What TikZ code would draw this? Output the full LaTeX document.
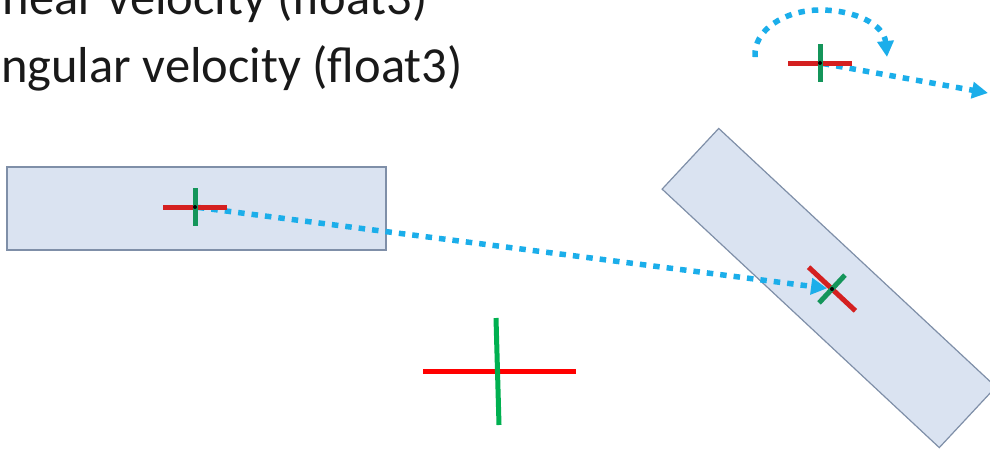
\documentclass[tikz,border=0pt]{standalone}
\usepackage{fontspec}
\setmainfont{Carlito}
\usetikzlibrary{arrows.meta,calc}
\definecolor{bodyfill}{HTML}{DAE3F1}
\definecolor{bodyline}{HTML}{7F8FA8}
\definecolor{velblue}{HTML}{1BAEEA}
\definecolor{axred}{HTML}{D42020}
\definecolor{axgreen}{HTML}{14955A}
\definecolor{bigred}{HTML}{FF0000}
\definecolor{biggreen}{HTML}{00B050}
% local axes of a body: red = x, green = y
\newcommand{\frameaxes}[2]{%
  \begin{scope}[shift={(#1)},rotate=#2]
    \draw[axx] (-32,0) -- (32,0);
    \draw[axy] (0,-19) -- (0,19);
    \fill (0,0) circle (2pt);
  \end{scope}}

\begin{document}
\begin{tikzpicture}[x=1pt,y=-1pt,
every node/.style={font=\fontsize{50.5}{60}\selectfont},
label/.style={inner sep=0pt,anchor=base east,text=black!90},
body/.style={draw=bodyline,line width=1.2pt,fill=bodyfill,minimum width=379pt,minimum height=83pt,inner sep=0pt},
axx/.style={draw=axred,line width=5pt},
axy/.style={draw=axgreen,line width=5pt},
vel/.style={draw=velblue,line width=5.5pt,dash pattern=on 6.5pt off 7pt,-{Triangle[length=16pt,width=16pt]}}
]
\useasboundingbox (0,0) rectangle (990,451);
\clip (0,0) rectangle (990,451);

\node[label] (linvel) at (428,14) {inear velocity (float3)};
\node[label] (angvel) at (463,82) {ngular velocity (float3)};

% bodies
\node[body] (bodyA) at (196.5,208.5) {};
\node[body,rotate=-43] (bodyB) at (829,288) {};

\coordinate (cA) at (195,207);
\coordinate (cB) at (832,289);
\coordinate (cC) at (820,63);
\coordinate (spinS) at (755,57);
\coordinate (spinTop) at (820,10);
\coordinate (spinE) at (887,57);
\coordinate (velE) at (988,93);

% velocities
\draw[vel,shorten <=3pt,shorten >=5pt] (cA) -- (cB);
\draw[vel,shorten <=3pt] (cC) -- (velE);
\draw[vel] (spinS) .. controls (753,30) and (785,10) .. (spinTop)
  .. controls (856,10) and (884,25) .. (spinE);

\frameaxes{cA}{0}
\frameaxes{cB}{-43}
\frameaxes{cC}{0}

% world axes
\draw[bigred,line width=5pt] (423,371) -- (576,371);
\draw[biggreen,line width=5pt] (496,318) -- (499,425);
\end{tikzpicture}
\end{document}
